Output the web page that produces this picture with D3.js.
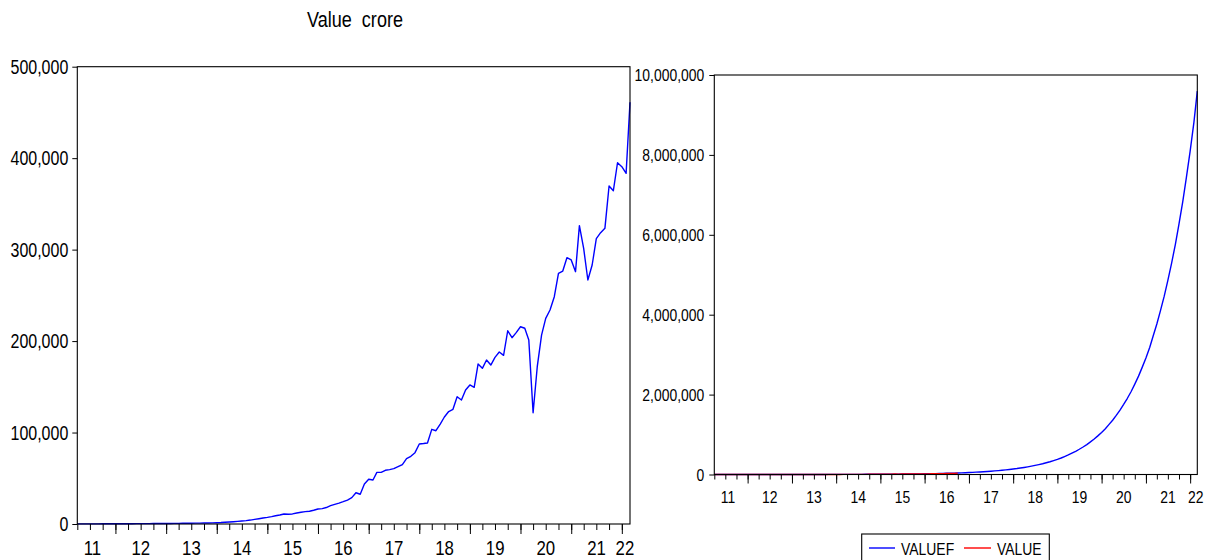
<!DOCTYPE html>
<html><head><meta charset="utf-8">
<script src="https://cdn.jsdelivr.net/npm/d3@7"></script>
<style>
html,body{margin:0;padding:0;background:#fff;overflow:hidden}
svg{display:block;background:#fff}
text{font-family:"Liberation Sans",Arial,sans-serif;fill:#000}
</style></head><body>
<svg id="c" width="1208" height="560"></svg>
<script>
// ---- data (monthly, Apr 2011 .. Mar 2022) ----
const firstYear = 2011, firstMonthIndex = 3; // April
const valueCrore = [
 120,130,150,160,170,190,200,220,230,250,270,290,310,330,360,380,410,440,470,500,
 540,580,620,660,710,760,820,880,940,1000,1080,1150,1250,1400,1600,1900,2200,2500,2900,3300,
 3700,4300,5000,5800,6600,7200,8000,9000,9800,10900,10600,11000,12000,12800,13500,13900,15000,16400,16800,18000,
 20000,21500,22800,24400,26200,28800,34200,32500,43700,48900,48100,56500,56500,58700,59500,60500,62700,65000,71400,74000,
 78000,87500,88000,88600,103500,102000,109300,117000,123000,125400,139200,135600,146500,152000,149400,174900,170200,179300,173800,182200,
 188000,184400,211300,203700,209200,215700,214000,201200,121700,172000,206600,224900,234000,248500,274100,276600,291200,288700,275900,326200,
 301000,266800,283200,312000,318500,323300,369600,364400,395000,390700,383400,461100
];
const valueF = [
 140,152,166,181,197,214,233,254,276,301,328,357,388,423,460,501,545,594,647,704,
 766,834,908,989,1077,1172,1276,1389,1513,1647,1793,1952,2125,2314,2519,2743,2986,3251,3539,3853,
 4195,4567,4972,5414,5894,6417,6986,7606,8280,9015,9815,10686,11633,12666,13789,15012,16345,17794,19373,21091,
 22963,25000,27217,29632,32262,35125,38240,41632,45326,49347,53725,58492,63680,69329,75481,82177,89467,97405,106047,115455,
 125699,136850,148988,162204,176596,192262,209328,227892,248108,270116,294084,320180,348586,379512,413182,449834,489748,533190,580496,632002,
 688072,749112,815570,887936,966714,1052478,1145858,1247512,1358196,1478680,1609860,1752660,1908200,2077460,2261840,2462460,2681000,2918860,3177720,3459680,
 3766700,4100880,4464600,4860660,5292000,5761420,6272560,6829060,7434980,8094660,8812860,9594760
];
const valueInRightPanel = valueCrore.slice(0, 67);
const leftTicks = [0,100000,200000,300000,400000,500000];
const rightTicks = [0,2000000,4000000,6000000,8000000,10000000];
const yearLabels = ["11","12","13","14","15","16","17","18","19","20","21","22"];
const titleText = "Value  crore";
const legendNames = ["VALUEF","VALUE"];
const seriesColors = ["#0000ff","#ff0000"];

const NARROW = 0.82; // horizontal squeeze to mimic a narrow sans face
const dates = valueCrore.map((_, i) => new Date(firstYear, firstMonthIndex + i, 1));
const svg = d3.select("#c");
const fmt = d3.format(",");

function narrowText(parent, x, y, str, size, anchor) {
  return parent.append("text")
    .attr("transform", `translate(${x},${y}) scale(${NARROW},1)`)
    .attr("text-anchor", anchor || "start")
    .attr("font-size", size)
    .style("white-space", "pre")
    .text(str);
}

function panel(o) {
  const g = svg.append("g");
  const x = d3.scaleTime().domain([dates[0], dates[dates.length-1]]).range([o.x0, o.x1]);
  const y = d3.scaleLinear().domain([0, o.ymax]).range([o.y1, o.y0]);

  o.series.forEach(s => {
    g.append("path")
      .datum(s.values)
      .attr("fill","none").attr("stroke", s.color).attr("stroke-width", 1.4)
      .attr("stroke-linejoin","round")
      .attr("d", d3.line().x((d,i) => x(dates[i])).y(d => y(d)));
  });

  g.append("rect").attr("x", o.x0).attr("y", o.y0)
    .attr("width", o.x1 - o.x0).attr("height", o.y1 - o.y0)
    .attr("fill","none").attr("stroke","#000").attr("stroke-width",1.1);

  const ya = g.append("g").attr("transform", `translate(${o.x0},0)`)
    .call(d3.axisLeft(y).tickValues(o.ticks).tickSize(5).tickPadding(o.ypad).tickFormat(fmt));
  ya.attr("font-family", null).attr("font-size", null);
  ya.select(".domain").remove();
  ya.selectAll("line").attr("stroke","#000");
  ya.selectAll("text")
    .attr("font-size", o.yfs)
    .attr("dy", "0.35em")
    .attr("x", function(){ return (+this.getAttribute("x")) / NARROW; })
    .attr("transform", `scale(${NARROW},1)`);

  const end = new Date(+dates[dates.length-1] + 1);
  const quarters = d3.timeMonth.every(3).range(dates[0], end);
  const years = d3.timeYear.range(dates[0], end);
  const xMinor = g.append("g").attr("transform", `translate(0,${o.y1})`)
    .call(d3.axisBottom(x).tickValues(quarters).tickSize(o.minorLen).tickFormat(""));
  xMinor.select(".domain").remove();
  const xMajor = g.append("g").attr("transform", `translate(0,${o.y1})`)
    .call(d3.axisBottom(x).tickValues(years).tickSize(o.majorLen).tickFormat(""));
  xMajor.select(".domain").remove();
  g.selectAll(".tick line").attr("stroke","#000");

  yearLabels.forEach((lab, k) => {
    const yr = firstYear + k;
    const a = d3.max([new Date(yr,0,1), dates[0]]);
    const b = d3.min([new Date(yr+1,0,1), dates[dates.length-1]]);
    let cx = (x(a)+x(b))/2 + (o.labShift[k] || 0);
    narrowText(g, cx, o.xlabY, lab, o.xfs, "middle");
  });
  return {x, y};
}

panel({x0:77.3, x1:630, y0:66.7, y1:524, ymax:500000, ticks:leftTicks, yfs:19.5, xfs:20.5, ypad:4,
  minorLen:6, majorLen:10, xlabY:555, labShift:{0:-4, 11:-1},
  series:[{values:valueCrore, color:seriesColors[0]}]});

panel({x0:714.3, x1:1197.3, y0:75, y1:474.5, ymax:10000000, ticks:rightTicks, yfs:17, xfs:17, ypad:5,
  minorLen:5, majorLen:9, xlabY:503, labShift:{0:-3, 11:2},
  series:[{values:valueF, color:seriesColors[0]}, {values:valueInRightPanel, color:seriesColors[1]}]});

narrowText(svg, 355, 27, titleText, 22, "middle");

const lg = svg.append("g");
lg.append("rect").attr("x", 861.7).attr("y", 534).attr("width", 187.6).attr("height", 40)
  .attr("fill","#fff").attr("stroke","#000").attr("stroke-width",1.1);
const legendX = [[869, 895, 901], [964, 991, 997]];
legendNames.forEach((n, k) => {
  lg.append("line").attr("x1", legendX[k][0]).attr("x2", legendX[k][1]).attr("y1", 548).attr("y2", 548)
    .attr("stroke", seriesColors[k]).attr("stroke-width", 1.4);
  narrowText(lg, legendX[k][2], 554.5, n, 17, "start");
});
</script>
</body></html>
